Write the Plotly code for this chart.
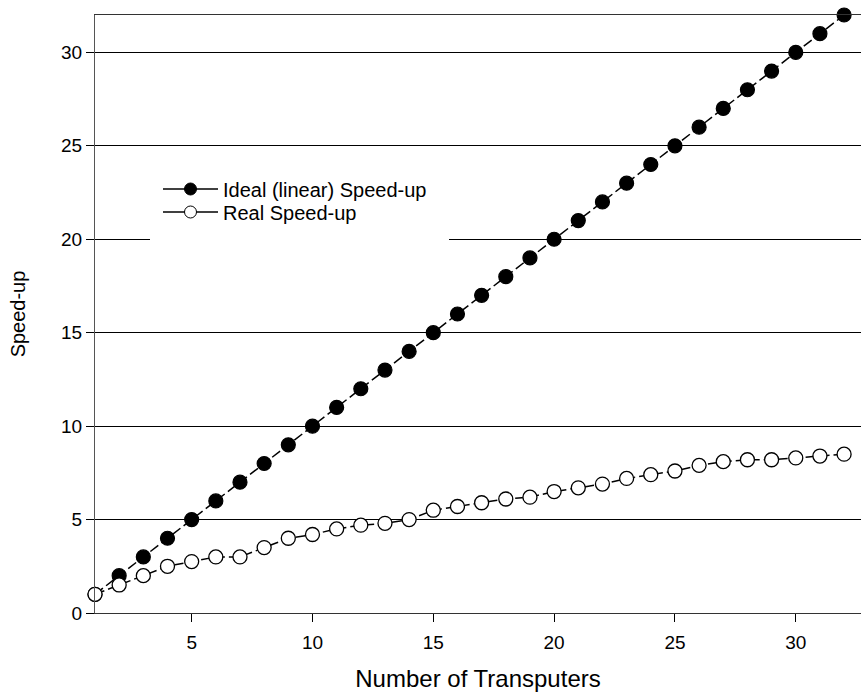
import plotly.graph_objects as go

transputers = list(range(1, 33))
ideal_speedup = [float(n) for n in range(1, 33)]
real_speedup = [1.0, 1.5, 2.0, 2.5, 2.75, 3.0, 3.0, 3.5, 4.0, 4.2,
                4.5, 4.7, 4.8, 5.0, 5.5, 5.7, 5.9, 6.1, 6.2, 6.5,
                6.7, 6.9, 7.2, 7.4, 7.6, 7.9, 8.1, 8.2, 8.2, 8.3,
                8.4, 8.5]
x_ticks = [5, 10, 15, 20, 25, 30]
y_ticks = [0, 5, 10, 15, 20, 25, 30]
series_names = ["Ideal (linear) Speed-up", "Real Speed-up"]

FONT = "Liberation Sans, Arial, sans-serif"

fig = go.Figure()
fig.add_trace(go.Scatter(
    x=transputers, y=ideal_speedup, mode="lines+markers",
    name=series_names[0], showlegend=False, cliponaxis=False,
    line=dict(color="black", width=1.5, dash="10px,4px"),
    marker=dict(symbol="circle", size=14, color="black",
                line=dict(color="black", width=1.2)),
))
fig.add_trace(go.Scatter(
    x=transputers, y=real_speedup, mode="lines+markers",
    name=series_names[1], showlegend=False, cliponaxis=False,
    line=dict(color="black", width=1.5, dash="10px,4px"),
    marker=dict(symbol="circle", size=14, color="white",
                line=dict(color="black", width=1.3)),
))
# legend-only entries with solid line symbols (as in the reference legend)
fig.add_trace(go.Scatter(
    x=[None], y=[None], mode="lines+markers", name=series_names[0],
    legend="legend",
    line=dict(color="black", width=1.3),
    marker=dict(symbol="circle", size=12, color="black",
                line=dict(color="black", width=1)),
))
fig.add_trace(go.Scatter(
    x=[None], y=[None], mode="lines+markers", name=series_names[1],
    legend="legend2",
    line=dict(color="black", width=1.3),
    marker=dict(symbol="circle", size=12, color="white",
                line=dict(color="black", width=1)),
))

fig.add_shape(type="rect", xref="paper", yref="paper",
              x0=(150 - 95) / 766, x1=(449 - 95) / 766,
              y0=(613 - 245) / 598, y1=(613 - 228) / 598,
              fillcolor="white", line=dict(width=0), layer="above")

legend_common = dict(xanchor="left", yanchor="middle",
                     bgcolor="rgba(0,0,0,0)",
                     font=dict(size=20, family=FONT), itemwidth=55)

fig.update_layout(
    width=861, height=700,
    margin=dict(l=95, r=0, t=15, b=87),
    paper_bgcolor="white", plot_bgcolor="white",
    font=dict(family=FONT, color="black"),
    showlegend=True,
    legend=dict(x=(158 - 95) / 766, y=(613 - 189) / 598, **legend_common),
    legend2=dict(x=(158 - 95) / 766, y=(613 - 212) / 598, **legend_common),
)
fig.update_xaxes(
    range=[1, 32.7], tickvals=x_ticks, ticks="outside", ticklen=8,
    tickcolor="black", showgrid=False, zeroline=False,
    showline=True, linecolor="#333", linewidth=1, mirror=True,
    tickfont=dict(size=19, family=FONT), ticklabelstandoff=4,
    title=dict(text="Number of Transputers", font=dict(size=24, family=FONT),
               standoff=18),
)
fig.update_yaxes(
    range=[0, 32], tickvals=y_ticks, ticks="outside", ticklen=8,
    tickcolor="black", showgrid=True, gridcolor="black", gridwidth=1,
    zeroline=False, showline=True, linecolor="#555", linewidth=1, mirror=True,
    tickfont=dict(size=19, family=FONT),
    title=dict(text="Speed-up", font=dict(size=20, family=FONT), standoff=30),
)

fig.write_html("out.html")
